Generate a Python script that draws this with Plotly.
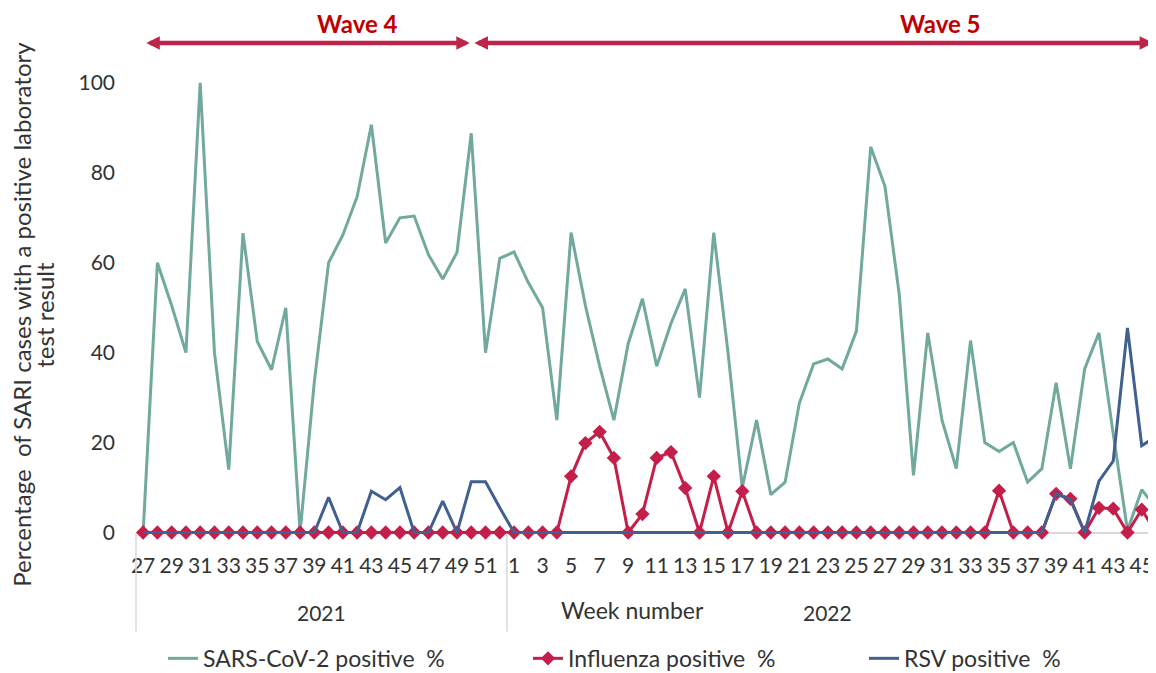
import plotly.graph_objects as go

# ---------------- data ----------------
years = ["2021", "2022"]
weeks_2021 = list(range(27, 53))
weeks_2022 = list(range(1, 47))

sars_2021 = [0, 60, 50.5, 40, 100, 40, 14, 66.6, 42.5, 36.2, 50, 0, 33.5, 60, 66.2, 74.7,
             90.7, 64.4, 70, 70.4, 61.8, 56.4, 62.3, 88.8, 40, 61]
sars_2022 = [62.4, 55.6, 50, 25, 66.7, 50.5, 37, 25, 42, 52, 37, 46.5, 54.2, 30, 66.7, 40,
             10, 25, 8.4, 11.2, 28.8, 37.5, 38.6, 36.4, 44.8, 85.8, 77, 53, 12.7, 44.4, 25,
             14.2, 42.7, 20, 18, 20, 11.2, 14.2, 33.3, 14.2, 36.4, 44.4, 22, 0.5, 9.5, 5.5]

flu_2021 = [0] * 26
flu_2022 = [0, 0, 0, 0, 12.5, 19.9, 22.4, 16.6, 0, 4.1, 16.6, 17.9, 9.9, 0, 12.5, 0, 9.2,
            0, 0, 0, 0, 0, 0, 0, 0, 0, 0, 0, 0, 0, 0, 0, 0, 0, 9.3, 0, 0, 0, 8.6, 7.5, 0,
            5.5, 5.3, 0, 5.1, 0]

rsv_2021 = [0, 0, 0, 0, 0, 0, 0, 0, 0, 0, 0, 0, 0, 7.8, 0, 0, 9.2, 7.3, 10, 0, 0, 7, 0,
            11.3, 11.3, 5.5]
rsv_2022 = [0] * 38 + [8.6, 7.3, 0, 11.4, 15.9, 45.5, 19.3, 21.4]

series_names = ["SARS-CoV-2 positive  %", "Influenza positive  %", "RSV positive  %"]
wave_labels = ["Wave 4", "Wave 5"]
# wave spans expressed as positions along the week sequence (index units)
wave_spans = [(0.12, 22.9), (23.12, 70.8)]

y_title_lines = ["Percentage  of SARI cases with a positive laboratory", "test result"]
x_title = "Week number"

# ---------------- build ----------------
all_weeks = weeks_2021 + weeks_2022
x = list(range(len(all_weeks)))
sars = sars_2021 + sars_2022
flu = flu_2021 + flu_2022
rsv = rsv_2021 + rsv_2022

tickvals = [i for i, w in enumerate(all_weeks) if w % 2 == 1]
ticktext = [str(all_weeks[i]) for i in tickvals]

FONT = "Lato, 'Open Sans', sans-serif"
TXT = "#333333"
GREEN = "#72A99D"
RED = "#C41E4A"
BLUE = "#41608F"
ARROW = "#BE2349"

XR = [-0.5, 71.0]
YR = [-1, 110]

# the page body adds an 8px offset; size the figure so it fills the window
OFF = 8
W, H = 1156 - OFF, 673 - OFF
ML, MR, MT = 136 - OFF, 0, 38 - OFF
MB = 135.5
plot_w = W - ML - MR
plot_h = H - MT - MB


def xpaper(v):
    return (v - XR[0]) / (XR[1] - XR[0])


def xpaper_px(px):  # px in window coordinates
    return (px - OFF - ML) / plot_w


def ypaper(px):  # px in window coordinates
    return (H - MB - (px - OFF)) / plot_h


fig = go.Figure()
fig.add_trace(go.Scatter(x=x, y=sars, mode="lines", name=series_names[0],
                         line=dict(color=GREEN, width=3), legend="legend"))
fig.add_trace(go.Scatter(x=x, y=flu, mode="lines+markers", name=series_names[1],
                         line=dict(color=RED, width=3),
                         marker=dict(symbol="diamond", size=11, color=RED),
                         cliponaxis=False, legend="legend2"))
fig.add_trace(go.Scatter(x=x, y=rsv, mode="lines", name=series_names[2],
                         line=dict(color=BLUE, width=3), legend="legend3"))

# category dividers (year groups)
n21 = len(weeks_2021)
for v in [-0.5, n21 - 0.5]:
    fig.add_shape(type="line", xref="paper", yref="paper",
                  x0=xpaper(v), x1=xpaper(v), y0=ypaper(534), y1=ypaper(632),
                  line=dict(color="#D9D9D9", width=1.5))

annotations = []
# year labels
annotations.append(dict(x=(n21 - 1) / 2, y=ypaper(613), xref="x", yref="paper",
                        text=years[0], showarrow=False, xanchor="center", yanchor="middle",
                        font=dict(family=FONT, size=21, color=TXT)))
annotations.append(dict(x=n21 + 22.0, y=ypaper(613), xref="x", yref="paper",
                        text=years[1], showarrow=False, xanchor="center", yanchor="middle",
                        font=dict(family=FONT, size=21, color=TXT)))
annotations.append(dict(x=34.3, y=ypaper(611), xref="x", yref="paper",
                        text=x_title, showarrow=False, xanchor="center", yanchor="middle",
                        font=dict(family=FONT, size=23, color=TXT)))
# y title (two lines)
for line_txt, cx in zip(y_title_lines, [22, 45]):
    annotations.append(dict(x=xpaper_px(cx), y=ypaper(315), xref="paper", yref="paper",
                            text=line_txt, showarrow=False, textangle=-90,
                            xanchor="center", yanchor="middle",
                            font=dict(family=FONT, size=24, color=TXT)))
# wave arrows
arrow_y = 108.9
for lab, (a, b) in zip(wave_labels, wave_spans):
    annotations.append(dict(x=b, y=arrow_y, ax=a, ay=arrow_y, xref="x", yref="y",
                            axref="x", ayref="y", text="", showarrow=True,
                            arrowhead=2, startarrowhead=2, arrowside="end+start",
                            arrowsize=0.6, startarrowsize=0.6, arrowwidth=4.5,
                            arrowcolor=ARROW, standoff=0, startstandoff=0))
for lab, cx in zip(wave_labels, [15.06, 55.9]):
    annotations.append(dict(x=cx, y=ypaper(23), xref="x", yref="paper", text="<b>%s</b>" % lab,
                            showarrow=False, xanchor="center", yanchor="middle",
                            font=dict(family=FONT, size=24, color="#C00000")))

leg_common = dict(orientation="h", yanchor="middle", y=ypaper(659), xanchor="left",
                  font=dict(family=FONT, size=23, color=TXT), bgcolor="rgba(0,0,0,0)",
                  itemwidth=30)
text_starts = [203, 568, 904]
legs = {}
for k, ts in zip(["legend", "legend2", "legend3"], text_starts):
    d = dict(leg_common)
    d["x"] = xpaper_px(ts - 40)
    legs[k] = d

fig.update_layout(
    width=W, height=H,
    margin=dict(l=ML, r=MR, t=MT, b=MB, autoexpand=False),
    plot_bgcolor="white", paper_bgcolor="white",
    font=dict(family=FONT, size=21, color=TXT),
    showlegend=True,
    annotations=annotations,
    xaxis=dict(range=XR, tickmode="array", tickvals=tickvals, ticktext=ticktext,
               showgrid=False, zeroline=False, showline=False, ticks="",
               tickfont=dict(family=FONT, size=21, color=TXT), ticklabelstandoff=14,
               tickangle=0),
    yaxis=dict(range=YR, tickmode="array", tickvals=[0, 20, 40, 60, 80, 100],
               showgrid=False, zeroline=True, zerolinecolor="#D9D9D9", zerolinewidth=1.5,
               showline=False, ticks="", tickfont=dict(family=FONT, size=21, color=TXT),
               ticklabelstandoff=20),
    **legs,
)

fig.write_html("out.html")
